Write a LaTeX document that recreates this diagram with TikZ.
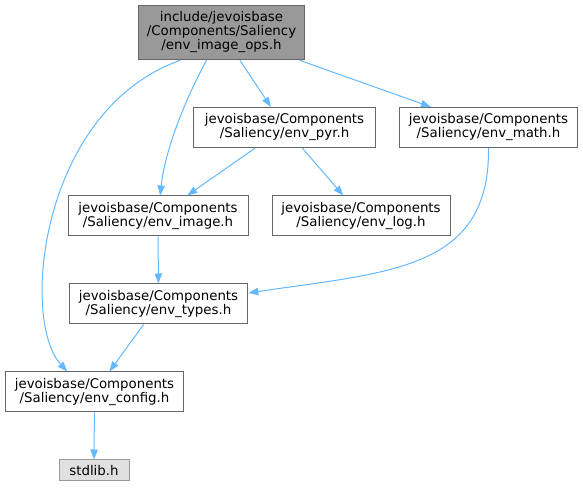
\documentclass[tikz,border=0pt]{standalone}
\usepackage{fontspec}
\setmainfont{DejaVu Sans}
\usetikzlibrary{arrows.meta}
\definecolor{edgeblue}{HTML}{63B8FF}
\definecolor{boxgray}{HTML}{666666}
\definecolor{topfill}{HTML}{999999}
\definecolor{sysfill}{HTML}{E0E0E0}
\definecolor{sysdraw}{HTML}{999999}
\tikzset{
  filebox/.style={draw=boxgray, fill=white, line width=0.75pt, align=center,
    minimum width=134pt, minimum height=30pt, inner sep=0pt,
    font=\fontsize{10}{10.5}\selectfont},
  dep/.style={draw=edgeblue, line width=0.75pt, -{Triangle[length=7.5pt,width=5.5pt]}}
}
\begin{document}
\begin{tikzpicture}[x=0.75pt,y=-0.75pt]
            \useasboundingbox (0,0) rectangle (583,491);
            %Files
            \node[filebox, fill=topfill, minimum width=125pt, minimum height=41pt] (envops) at (221.5,32.5)
              {include/jevoisbase\\/Components/Saliency\\/env\_image\_ops.h};
            \node[filebox, minimum width=136pt] (envpyr) at (284.5,127.5) {jevoisbase/Components\\/Saliency/env\_pyr.h};
            \node[filebox] (envmath) at (488.5,127.5) {jevoisbase/Components\\/Saliency/env\_math.h};
            \node[filebox, minimum width=135pt] (envimage) at (158,216) {jevoisbase/Components\\/Saliency/env\_image.h};
            \node[filebox, minimum width=133.5pt] (envlog) at (361,216) {jevoisbase/Components\\/Saliency/env\_log.h};
            \node[filebox] (envtypes) at (158.5,304) {jevoisbase/Components\\/Saliency/env\_types.h};
            \node[filebox] (envconfig) at (94.5,392) {jevoisbase/Components\\/Saliency/env\_config.h};
            \node[filebox, draw=sysdraw, fill=sysfill, minimum width=52.5pt, minimum height=15.75pt] (stdlib) at (94,470.5) {stdlib.h};
            %Includes
            \draw[dep] (envops) -- (envpyr);
            \draw[dep] (envops) -- (envmath);
            \draw[dep] (envops) .. controls (185,100) and (165,150) .. (envimage);
            \draw[dep] (envops.-146.5) .. controls (40,110) and (20,320) .. (envconfig.143);
            \draw[dep] (envpyr) -- (envimage);
            \draw[dep] (envpyr) -- (envlog);
            \draw[dep] (envmath.south) .. controls (490,270) and (390,272) .. (envtypes.7.6);
            \draw[dep] (envimage) -- (envtypes);
            \draw[dep] (envtypes) -- (envconfig);
            \draw[dep] (envconfig) -- (stdlib);
\end{tikzpicture}
\end{document}
